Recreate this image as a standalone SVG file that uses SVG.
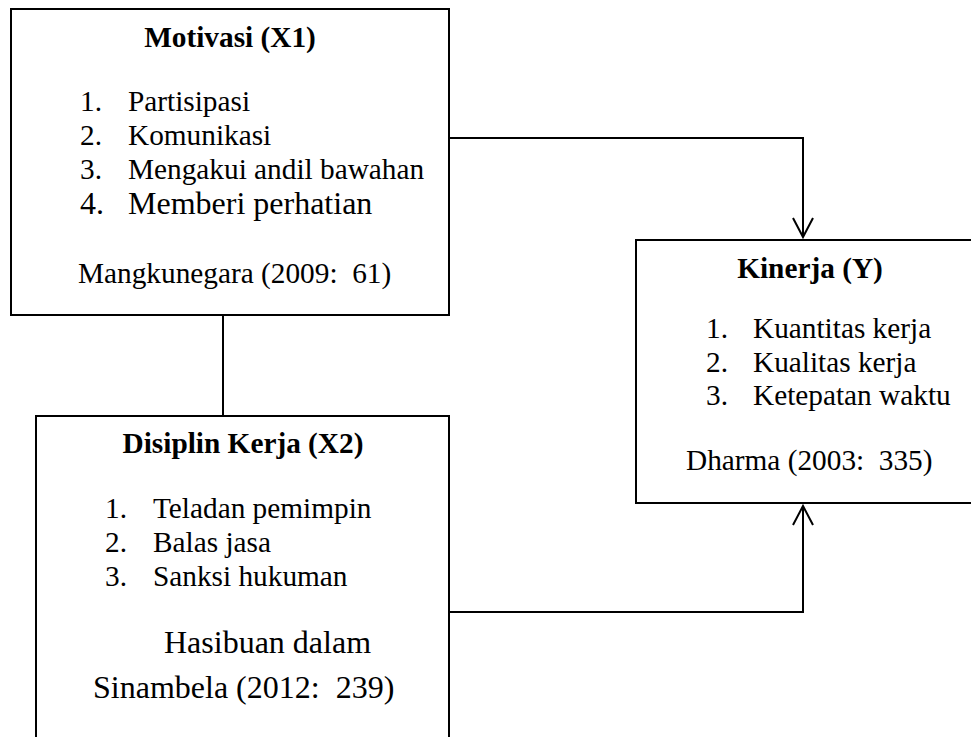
<svg xmlns="http://www.w3.org/2000/svg" width="971" height="737" viewBox="0 0 971 737">
<style>
  text { font-family: "Liberation Serif", "Times New Roman", serif; font-size: 29.3px; fill: #000; }
  .title { font-weight: bold; text-anchor: middle; }
  .big { font-size: 32px; }
  .box { fill: #fff; stroke: #000; stroke-width: 2; }
  .conn { fill: none; stroke: #000; stroke-width: 2; }
</style>
<defs>
  <marker id="arrow" viewBox="0 0 22 22" markerWidth="22" markerHeight="22" refX="20" refY="11" orient="auto" markerUnits="userSpaceOnUse" overflow="visible">
    <path d="M1,1 L20,11 L1,21" fill="none" stroke="#000" stroke-width="2"/>
  </marker>
</defs>
<rect width="971" height="737" fill="#fff"/>

<g id="connectors">
  <path class="conn" d="M449,138 H803 V237" marker-end="url(#arrow)"/>
  <path class="conn" d="M223,315 V416"/>
  <path class="conn" d="M449,612 H803 V506" marker-end="url(#arrow)"/>
</g>

<g id="motivasi">
  <rect class="box" x="11" y="9" width="438" height="306"/>
  <text class="title" x="230" y="47">Motivasi (X1)</text>
  <text x="80" y="111">1.</text><text x="128" y="111">Partisipasi</text>
  <text x="80" y="145">2.</text><text x="128" y="145">Komunikasi</text>
  <text x="80" y="179">3.</text><text x="128" y="179">Mengakui andil bawahan</text>
  <text class="big" x="80" y="214">4.</text><text class="big" x="128" y="214">Memberi perhatian</text>
  <text x="78" y="283" xml:space="preserve">Mangkunegara (2009:  61)</text>
</g>

<g id="disiplin">
  <rect class="box" x="36" y="416" width="413" height="340"/>
  <text class="title" x="243" y="453">Disiplin Kerja (X2)</text>
  <text x="105" y="518">1.</text><text x="153" y="518">Teladan pemimpin</text>
  <text x="105" y="552">2.</text><text x="153" y="552">Balas jasa</text>
  <text x="105" y="586">3.</text><text x="153" y="586">Sanksi hukuman</text>
  <text class="big" x="164" y="653">Hasibuan dalam</text>
  <text class="big" x="93" y="698" xml:space="preserve">Sinambela (2012:  239)</text>
</g>

<g id="kinerja">
  <rect class="box" x="636" y="240" width="345" height="263"/>
  <text class="title" x="810" y="278">Kinerja (Y)</text>
  <text x="706" y="338">1.</text><text x="753" y="338">Kuantitas kerja</text>
  <text x="706" y="372">2.</text><text x="753" y="372">Kualitas kerja</text>
  <text x="706" y="405">3.</text><text x="753" y="405">Ketepatan waktu</text>
  <text x="686" y="470" xml:space="preserve">Dharma (2003:  335)</text>
</g>
</svg>
